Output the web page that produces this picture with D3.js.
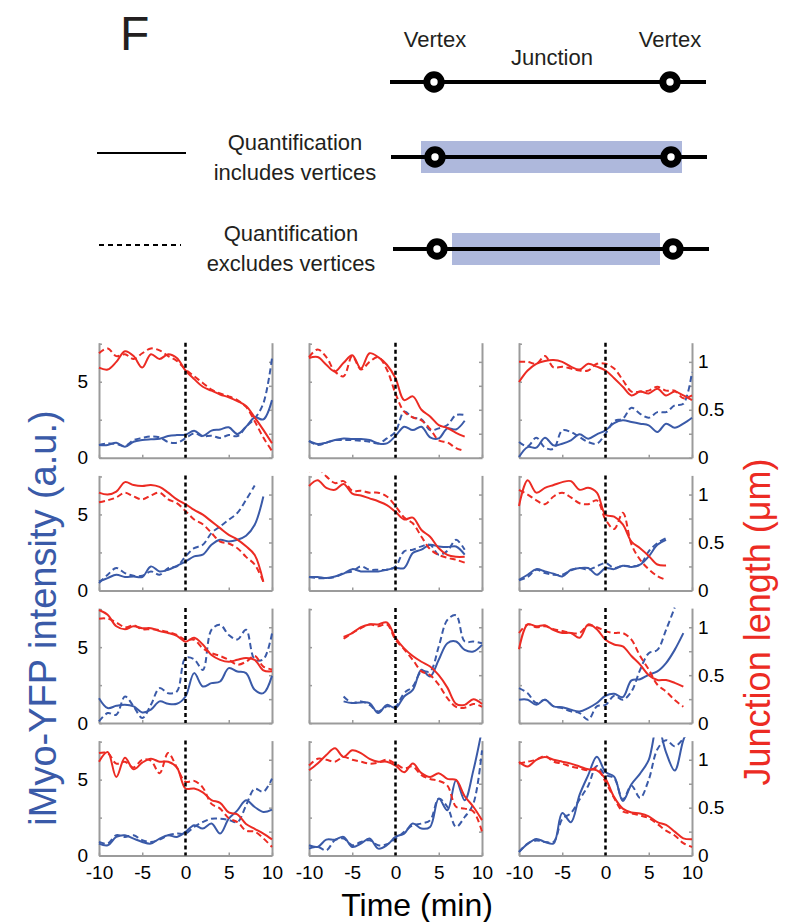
<!DOCTYPE html>
<html>
<head>
<meta charset="utf-8">
<script src="https://cdn.jsdelivr.net/npm/d3@7"></script>
<style>
body { margin: 0; background: #fff; }
text { font-family: "Liberation Sans", Arial, Helvetica, sans-serif; }
</style>
</head>
<body>
<svg id="fig" width="791" height="922"></svg>
<script>
// time points (min) shared by every trace
var times = [-10,-9,-8,-7,-6,-5,-4,-3,-2,-1,0,1,2,3,4,5,6,7,8,9,10];
var xTicks = [-10, -5, 0, 5, 10];
var leftTicks = [0, 2.5, 5, 7.5];
var leftLabels = [0, 5];
var rightTicks = [0, 0.25, 0.5, 0.75, 1];
var rightLabels = [0, 0.5, 1];

// iMyo-YFP intensity (a.u.), one row per panel, reading order
var blueSolid = [
  [0.83,0.83,0.99,0.72,1.05,1.16,1.21,1.25,1.43,1.49,1.51,1.78,1.43,1.78,1.86,2.0,1.56,2.04,2.65,2.52,3.79],
  [1.1,0.9,0.99,1.16,1.27,1.23,1.23,1.16,0.94,0.94,1.43,2.04,1.82,2.04,1.34,1.27,1.93,1.86,2.43,null,null],
  [0.04,0.7,0.66,1.32,0.81,0.92,1.14,1.54,1.25,1.54,1.8,2.28,2.46,2.35,2.24,2.13,1.69,2.24,1.97,2.24,2.63],
  [0.59,0.81,1.03,0.88,0.92,0.88,1.58,1.25,1.36,1.62,1.9,2.24,2.35,3.0,3.33,3.22,3.33,3.6,4.32,6.18,null],
  [0.88,0.88,0.81,0.92,1.1,1.4,1.25,1.25,1.25,1.36,1.47,1.47,2.46,2.68,3.0,2.89,2.85,2.89,2.35,null,null],
  [0.7,1.03,1.4,1.25,1.1,0.92,1.36,1.47,1.47,1.03,1.47,1.4,1.62,1.54,1.69,2.24,3.0,3.33,null,null,null],
  [1.64,0.99,1.14,1.21,1.1,0.7,0.88,1.43,1.27,1.27,1.75,3.29,2.41,2.63,2.74,3.62,3.4,3.29,2.19,1.97,3.11],
  [null,null,null,null,1.43,1.32,1.36,1.32,0.66,1.2,0.99,1.75,2.19,3.51,3.07,4.17,5.26,5.37,4.82,4.71,5.15],
  [1.54,1.54,1.21,1.54,1.1,1.05,0.88,0.77,0.99,1.32,1.8,1.93,1.71,2.81,2.89,3.18,3.4,3.95,4.82,5.92,null],
  [0.79,0.68,1.23,1.34,1.12,0.9,0.79,1.12,1.34,1.23,1.56,2.0,1.78,2.11,1.45,2.43,2.98,3.64,3.2,2.87,3.03],
  [0.68,0.57,1.05,1.05,1.23,0.57,0.79,1.12,0.46,0.68,1.23,1.45,2.11,1.78,1.89,3.75,2.98,4.96,3.64,5.61,8.3],
  [0.24,0.77,1.1,0.9,0.8,2.8,2.2,4.0,5.3,6.5,5.5,5.2,3.6,4.7,5.4,6.3,8.6,6.8,5.6,7.6,9.0]
];
var blueDashed = [
  [0.83,0.94,0.9,0.77,1.16,1.3,1.4,1.34,1.03,0.98,1.27,1.6,1.4,1.45,1.3,1.49,1.42,2.04,2.58,3.57,6.54],
  [1.1,0.83,0.99,1.16,1.16,1.16,1.12,1.05,0.94,1.27,1.71,3.03,2.65,2.52,1.82,1.93,2.15,2.81,2.81,null,null],
  [1.03,0.75,1.32,0.66,0.59,1.8,1.69,1.36,1.03,0.92,1.58,2.41,2.57,3.29,2.89,2.63,3.0,3.0,3.44,3.55,5.64],
  [0.48,1.03,1.47,1.14,0.96,0.96,1.25,1.03,1.47,1.58,2.24,2.78,3.0,3.77,4.21,4.65,5.1,5.96,6.9,null,null],
  [0.88,0.81,0.81,0.88,1.14,1.25,1.58,1.36,1.36,1.36,1.58,2.57,2.68,2.9,3.0,2.35,2.6,3.33,2.68,null,null],
  [0.66,0.88,1.36,1.14,1.03,1.03,1.32,1.47,1.36,1.58,1.8,1.47,1.62,1.58,1.69,2.57,3.11,3.44,null,null,null],
  [0.11,0.66,0.55,1.75,1.1,0.33,1.2,2.3,1.97,2.08,4.28,4.2,3.5,6.14,6.47,5.8,5.5,6.14,4.2,4.2,5.9],
  [null,null,null,null,1.75,1.32,1.43,1.2,0.77,1.1,1.1,1.97,2.41,3.4,3.4,5.04,6.8,7.1,5.37,5.37,5.26],
  [2.3,1.97,1.32,1.54,1.1,0.99,0.77,0.66,0.22,1.1,1.2,1.8,1.54,2.08,3.5,4.6,4.82,6.14,7.6,null,null],
  [0.9,0.79,1.34,1.23,1.34,1.01,0.9,1.05,1.34,1.45,1.45,1.89,2.21,2.43,2.43,2.35,2.2,3.3,4.4,4.2,5.07],
  [0.46,0.57,0.35,1.01,1.12,0.68,0.9,1.01,0.68,0.75,1.12,1.56,2.0,2.11,2.32,3.75,3.2,1.89,2.54,3.42,6.93],
  [0.24,0.79,1.0,0.9,0.9,2.4,2.8,3.7,4.6,5.9,5.3,5.1,3.7,4.6,3.8,5.0,7.0,7.6,7.2,7.7,8.5]
];

// junction length (um)
var redSolid = [
  [0.94,0.92,1.0,1.11,1.06,0.94,1.08,1.03,1.08,1.04,0.91,0.82,0.74,0.7,0.66,0.63,0.59,0.54,0.42,0.29,0.15],
  [1.04,1.05,0.97,0.9,0.99,1.07,0.93,1.09,1.05,0.97,0.83,0.6,0.64,0.5,0.43,0.34,0.31,0.26,0.22,null,null],
  [0.79,0.91,0.98,1.01,1.02,1.0,0.95,0.92,0.98,0.95,0.91,0.83,0.74,0.65,0.69,0.67,0.72,0.65,0.69,0.65,0.6],
  [1.02,1.0,1.03,1.13,1.1,1.09,1.1,1.08,1.02,0.95,0.9,0.84,0.79,0.72,0.65,0.58,0.53,0.46,0.37,0.09,null],
  [1.09,1.15,1.07,1.05,1.11,1.01,0.99,0.96,0.93,0.89,0.82,0.74,0.76,0.63,0.56,0.44,0.37,0.35,0.35,null,null],
  [0.88,1.15,1.02,1.07,1.1,1.13,1.14,1.05,1.07,1.02,0.79,0.77,0.69,0.51,0.44,0.36,0.27,0.26,null,null,null],
  [1.18,1.13,1.01,0.98,1.01,0.99,0.99,0.96,0.94,0.91,0.85,0.89,0.82,0.71,0.66,0.64,0.66,0.68,0.66,0.55,0.54],
  [null,null,null,null,0.9,0.94,1.0,1.03,1.03,1.05,0.89,0.78,0.7,0.64,0.59,0.5,0.37,0.2,0.19,0.25,0.2],
  [0.77,1.03,1.01,1.02,0.97,0.94,0.94,0.89,1.03,0.98,0.87,0.82,0.8,0.7,0.61,0.5,0.45,0.45,0.42,0.38,null],
  [0.98,1.08,0.82,1.02,0.9,0.97,1.01,0.98,0.98,0.92,0.7,0.7,0.66,0.58,0.55,0.45,0.43,0.33,0.28,0.23,0.17],
  [0.89,0.96,1.05,1.12,1.03,1.1,1.07,1.01,0.98,0.98,0.94,0.87,0.96,0.86,0.82,0.86,0.8,0.79,0.62,0.51,0.37],
  [0.98,0.93,1.0,1.03,1.0,0.98,0.96,0.93,0.9,0.89,0.8,0.61,0.49,0.45,0.44,0.41,0.35,0.32,0.25,0.18,0.17]
];
var redDashed = [
  [1.09,1.14,1.06,1.08,1.03,1.09,1.14,1.12,1.06,1.01,0.92,0.85,0.78,0.71,0.67,0.64,0.6,0.53,0.38,0.21,0.07],
  [1.05,1.13,1.05,0.9,0.85,1.06,0.92,1.0,1.05,0.92,0.67,0.48,0.42,0.39,0.3,0.18,0.16,0.1,0.07,null,null],
  [1.0,1.0,0.98,1.06,0.94,0.95,0.93,0.91,0.91,0.98,0.98,0.93,0.81,0.69,0.69,0.7,0.74,0.7,0.7,0.62,0.65],
  [0.92,0.94,0.97,1.02,0.98,0.95,0.99,1.02,0.95,0.91,0.83,0.74,0.69,0.6,0.51,0.49,0.44,0.35,0.27,0.09,null],
  [1.24,1.27,1.19,1.12,1.14,1.04,1.04,1.02,1.02,0.98,0.88,0.76,0.7,0.56,0.43,0.37,0.34,0.32,0.29,null,null],
  [1.05,1.0,0.94,0.9,0.98,1.02,0.97,0.91,0.9,0.94,0.74,0.64,0.81,0.48,0.32,0.22,0.15,0.11,null,null,null],
  [1.09,1.09,1.05,1.0,1.02,0.98,0.98,0.97,0.95,0.92,0.87,0.87,0.78,0.73,0.7,0.66,0.61,0.64,0.7,0.59,0.56],
  [null,null,null,null,0.88,0.94,0.99,1.03,1.01,1.03,0.87,0.77,0.66,0.54,0.5,0.4,0.26,0.17,0.16,0.2,0.17],
  [0.94,1.03,1.0,1.01,0.98,0.96,0.94,0.94,1.02,1.0,0.96,0.94,0.94,0.87,0.7,0.56,0.4,0.33,0.24,0.17,null],
  [1.07,1.07,0.96,0.98,0.92,1.0,0.99,0.86,1.07,0.92,0.77,0.78,0.71,0.54,0.49,0.39,0.35,0.26,0.25,0.18,0.09],
  [0.94,1.01,1.0,0.98,1.03,1.0,0.98,0.96,0.97,1.0,0.96,0.91,0.93,0.84,0.8,0.78,0.73,0.51,0.49,0.46,0.25],
  [0.96,0.98,1.0,1.04,0.98,0.96,0.93,0.91,0.89,0.91,0.77,0.6,0.46,0.44,0.42,0.39,0.33,0.26,0.21,0.13,0.09]
];

var blue = '#3a5aa8', red = '#ec2b23', gray = '#9b9b9b', ink = '#231f20';
var svg = d3.select('#fig');

// ---------- schematic at the top ----------
svg.append('text').attr('x', 120).attr('y', 50)
  .attr('font-size', 48).attr('fill', ink).text('F');

var junctions = [
  {y: 82, x1: 390, x2: 706, v: [434, 670], box: null},
  {y: 157, x1: 391, x2: 707, v: [435, 671], box: [421, 682]},
  {y: 249, x1: 393, x2: 709, v: [437, 673], box: [452, 660]}
];
junctions.forEach(function(j){
  var g = svg.append('g');
  if (j.box) {
    g.append('rect').attr('x', j.box[0]).attr('y', j.y - 16)
      .attr('width', j.box[1] - j.box[0]).attr('height', 32)
      .attr('fill', '#aeb8dc');
  }
  g.append('line').attr('x1', j.x1).attr('x2', j.x2).attr('y1', j.y).attr('y2', j.y)
    .attr('stroke', '#000').attr('stroke-width', 4);
  g.selectAll('circle').data(j.v).enter().append('circle')
    .attr('cx', d => d).attr('cy', j.y).attr('r', 7.2)
    .attr('fill', '#fff').attr('stroke', '#000').attr('stroke-width', 7);
});

var topLabels = [
  {t: 'Vertex', x: 435, y: 47}, {t: 'Junction', x: 552, y: 65}, {t: 'Vertex', x: 670, y: 47},
  {t: 'Quantification', x: 295, y: 150}, {t: 'includes vertices', x: 295, y: 180},
  {t: 'Quantification', x: 291, y: 241}, {t: 'excludes vertices', x: 291, y: 271}
];
svg.selectAll('text.lab').data(topLabels).enter().append('text')
  .attr('class', 'lab').attr('x', d => d.x).attr('y', d => d.y)
  .attr('text-anchor', 'middle').attr('font-size', 22).attr('fill', ink)
  .text(d => d.t);

svg.append('line').attr('x1', 97).attr('x2', 186).attr('y1', 153).attr('y2', 153)
  .attr('stroke', '#000').attr('stroke-width', 2);
svg.append('line').attr('x1', 99).attr('x2', 181).attr('y1', 245).attr('y2', 245)
  .attr('stroke', '#000').attr('stroke-width', 2).attr('stroke-dasharray', '5,4');

// ---------- small multiples ----------
var panelW = 173, panelH = 115;
var colLeft = [99, 309, 519];
var rowTop = [342.7, 475.4, 608.1, 740.6];

var x = d3.scaleLinear().domain([-10, 10]).range([0, panelW]);
var yL = d3.scaleLinear().domain([0, 7.57]).range([panelH, 0]);
var yR = d3.scaleLinear().domain([0, 1.2]).range([panelH, 0]);

svg.append('defs').append('clipPath').attr('id', 'panelClip')
  .append('rect').attr('x', -1).attr('y', -3).attr('width', panelW + 2).attr('height', panelH + 6);

function styleAxis(g){
  g.select('.domain').attr('stroke', gray).attr('stroke-width', 2);
  g.selectAll('.tick line').attr('stroke', gray).attr('stroke-width', 1.5);
  g.selectAll('.tick text').attr('fill', '#000').attr('font-size', 19)
    .style('font-family', '"Liberation Sans", Arial, sans-serif');
}

function lineFor(scale){
  return d3.line()
    .defined(d => d != null)
    .x((d, i) => x(times[i]))
    .y(d => scale(d))
    .curve(d3.curveCatmullRom.alpha(0.5));
}

blueSolid.forEach(function(_, p){
  var r = Math.floor(p / 3), c = p % 3;
  var g = svg.append('g').attr('transform', 'translate(' + colLeft[c] + ',' + rowTop[r] + ')');

  g.append('g').attr('transform', 'translate(0,' + panelH + ')')
    .call(d3.axisBottom(x).tickValues(xTicks).tickSize(-3).tickSizeOuter(0).tickPadding(10)
      .tickFormat(d => r === 3 ? d : ''))
    .call(styleAxis);
  g.append('g')
    .call(d3.axisLeft(yL).tickValues(leftTicks).tickSize(-3).tickSizeOuter(0).tickPadding(11)
      .tickFormat(d => (c === 0 && leftLabels.indexOf(d) >= 0) ? d : ''))
    .call(styleAxis);
  g.append('g').attr('transform', 'translate(' + panelW + ',0)')
    .call(d3.axisRight(yR).tickValues(rightTicks).tickSize(-3).tickSizeOuter(0).tickPadding(6)
      .tickFormat(d => (c === 2 && rightLabels.indexOf(d) >= 0) ? d : ''))
    .call(styleAxis);

  var plot = g.append('g').attr('clip-path', 'url(#panelClip)');
  var series = [
    {v: blueDashed[p], s: yL, col: blue, dash: '6,3.5'},
    {v: blueSolid[p], s: yL, col: blue, dash: null},
    {v: redDashed[p], s: yR, col: red, dash: '6,3.5'},
    {v: redSolid[p], s: yR, col: red, dash: null}
  ];
  series.forEach(function(sr){
    plot.append('path').datum(sr.v)
      .attr('d', lineFor(sr.s))
      .attr('fill', 'none').attr('stroke', sr.col).attr('stroke-width', 2)
      .attr('stroke-dasharray', sr.dash);
  });

  g.append('line').attr('x1', x(0)).attr('x2', x(0)).attr('y1', 0).attr('y2', panelH)
    .attr('stroke', '#000').attr('stroke-width', 2.5).attr('stroke-dasharray', '4,3');
});

// ---------- axis titles ----------
svg.append('text').attr('transform', 'translate(56,618) rotate(-90)')
  .attr('text-anchor', 'middle').attr('font-size', 38).attr('fill', blue)
  .text('iMyo-YFP intensity (a.u.)');
svg.append('text').attr('transform', 'translate(770,622) rotate(-90)')
  .attr('text-anchor', 'middle').attr('font-size', 36).attr('fill', red)
  .text('Junction length (\u03bcm)');
svg.append('text').attr('x', 417).attr('y', 916)
  .attr('text-anchor', 'middle').attr('font-size', 32).attr('fill', '#000')
  .text('Time (min)');
</script>
</body>
</html>
